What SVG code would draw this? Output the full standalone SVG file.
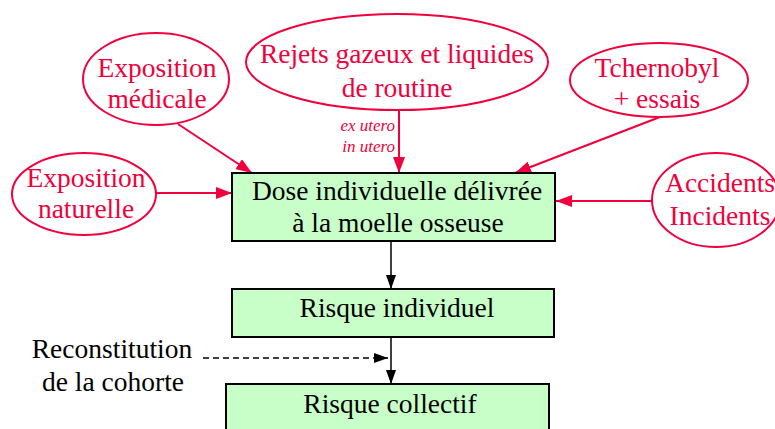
<svg xmlns="http://www.w3.org/2000/svg" width="775" height="429" viewBox="0 0 775 429">
<style>
.ell{fill:#fff;stroke:#f0003c;stroke-width:2}
.box{fill:#c8ffc8;stroke:#000;stroke-width:2}
text{font-family:'Liberation Serif','Times New Roman',Times,'DejaVu Serif',serif}
.rt{font-size:27.5px;fill:#f0003c;text-anchor:middle}
.bt{font-size:27.5px;fill:#000;text-anchor:middle}
.it{font-size:17px;font-style:italic;fill:#f0003c;text-anchor:end}
.rl{stroke:#f0003c;stroke-width:2;fill:none;marker-end:url(#ra)}
.bl{stroke:#000;stroke-width:1.5;fill:none;marker-end:url(#ba)}
</style>
<defs>
<marker id="ra" markerWidth="16" markerHeight="12" refX="16" refY="6" orient="auto" markerUnits="userSpaceOnUse"><path d="M0,0 L16,6 L0,12 Z" fill="#f0003c"/></marker>
<marker id="ba" markerWidth="14" markerHeight="10" refX="14" refY="5" orient="auto" markerUnits="userSpaceOnUse"><path d="M0,0 L14,5 L0,10 Z" fill="#000"/></marker>
</defs>
<rect width="775" height="429" fill="#fff"/>
<g id="connectors">
<line class="rl" x1="178" y1="124" x2="252" y2="173"/>
<line class="rl" x1="156" y1="193" x2="232" y2="193"/>
<line class="rl" x1="399" y1="110" x2="399" y2="173"/>
<line class="rl" x1="660" y1="117" x2="515" y2="173"/>
<line class="rl" x1="652" y1="201" x2="556" y2="201"/>
<line class="bl" x1="391" y1="241" x2="391" y2="289"/>
<line class="bl" x1="391" y1="337" x2="391" y2="384"/>
<line class="bl" x1="203" y1="358" x2="388" y2="358" stroke-dasharray="6,4"/>
</g>
<g id="expo-medicale">
<ellipse class="ell" cx="156" cy="79" rx="73" ry="46"/>
<text class="rt" x="157" y="77" font-family="Liberation Serif, serif">Exposition</text>
<text class="rt" x="157" y="108">médicale</text>
</g>
<g id="expo-naturelle">
<ellipse class="ell" cx="84" cy="194" rx="72" ry="41"/>
<text class="rt" x="86" y="187">Exposition</text>
<text class="rt" x="86" y="218">naturelle</text>
</g>
<g id="rejets">
<ellipse class="ell" cx="397" cy="62" rx="151" ry="48"/>
<text class="rt" x="397" y="63">Rejets gazeux et liquides</text>
<text class="rt" x="397" y="97">de routine</text>
<text class="it" x="395" y="131">ex utero</text>
<text class="it" x="395" y="152">in utero</text>
</g>
<g id="tchernobyl">
<ellipse class="ell" cx="659" cy="80" rx="89" ry="37"/>
<text class="rt" x="657" y="77">Tchernobyl</text>
<text class="rt" x="657" y="108">+ essais</text>
</g>
<g id="accidents">
<ellipse class="ell" cx="716" cy="200" rx="64" ry="47"/>
<text class="rt" x="720" y="192">Accidents</text>
<text class="rt" x="720" y="225">Incidents</text>
</g>
<g id="dose">
<rect class="box" x="232" y="173" width="323" height="68"/>
<text class="bt" x="397" y="200">Dose individuelle délivrée</text>
<text class="bt" x="398" y="232">à la moelle osseuse</text>
</g>
<g id="risque-individuel">
<rect class="box" x="232" y="289" width="322" height="48"/>
<text class="bt" x="397" y="317">Risque individuel</text>
</g>
<g id="risque-collectif">
<rect class="box" x="226" y="384" width="323" height="60"/>
<text class="bt" x="390" y="413">Risque collectif</text>
</g>
<g id="reconstitution">
<text class="bt" x="112" y="358">Reconstitution</text>
<text class="bt" x="113" y="391">de la cohorte</text>
</g>
</svg>
